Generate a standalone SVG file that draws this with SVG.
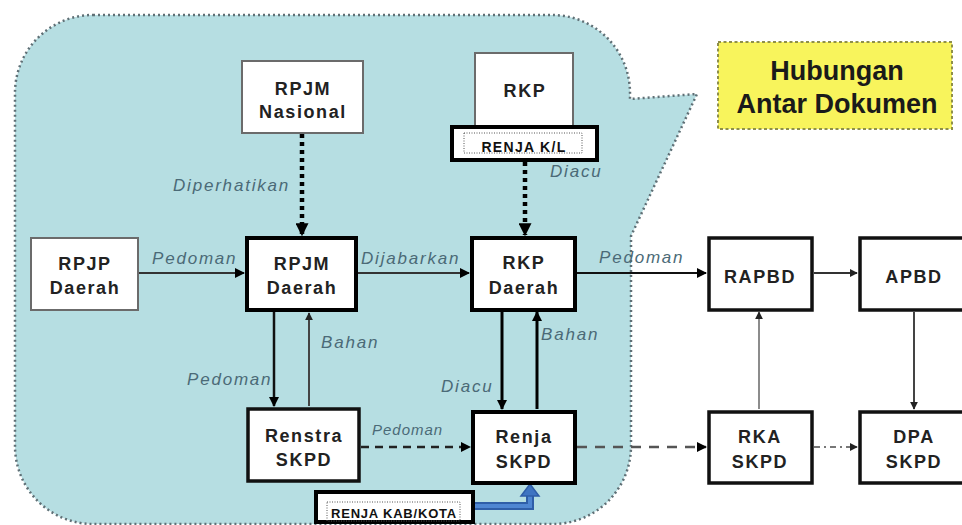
<svg xmlns="http://www.w3.org/2000/svg" width="962" height="525" viewBox="0 0 962 525">
<defs>
<style>
.bg{fill:#ffffff}
.callout{fill:#b6dee2;stroke:#5f6f75;stroke-width:2.5;stroke-dasharray:2 3}
.thin{fill:#ffffff;stroke:#6b6b6b;stroke-width:2}
.thick{fill:#ffffff;stroke:#000000;stroke-width:4}
.med{fill:#ffffff;stroke:#111111;stroke-width:3.5}
.nt{font-family:"Liberation Sans",Arial,sans-serif;font-weight:bold;font-size:18px;letter-spacing:1.6px;fill:#222222;text-anchor:middle}
.lbl{font-family:"Liberation Sans",Arial,sans-serif;font-style:italic;font-size:17px;letter-spacing:1.8px;fill:#4b6a77}
.tag{fill:#ffffff;stroke:#000000;stroke-width:4}
.tagin{fill:none;stroke:#555555;stroke-width:1;stroke-dasharray:1 1.5}
.tagt{font-family:"Liberation Sans",Arial,sans-serif;font-weight:bold;fill:#111111;text-anchor:middle}
.title{font-family:"Liberation Sans",Arial,sans-serif;font-weight:bold;font-size:27px;fill:#1a1a1a;text-anchor:middle}
.c{fill:none}
</style>
<marker id="ah" viewBox="0 0 10 10" refX="9" refY="5" markerWidth="10" markerHeight="10" markerUnits="userSpaceOnUse" orient="auto">
<path d="M0,0 L10,5 L0,10 Z" fill="#000000"/>
</marker>
<marker id="ahs" viewBox="0 0 10 10" refX="9" refY="5" markerWidth="8" markerHeight="8" markerUnits="userSpaceOnUse" orient="auto">
<path d="M0,0 L10,5 L0,10 Z" fill="#222222"/>
</marker>
<marker id="ahb" viewBox="0 0 10 10" refX="9" refY="5" markerWidth="13" markerHeight="13" markerUnits="userSpaceOnUse" orient="auto">
<path d="M0,0 L10,5 L0,10 Z" fill="#000000"/>
</marker>
</defs>
<rect class="bg" x="0" y="0" width="962" height="525"/>
<path id="callout" class="callout" d="M93 15 H552 A78 78 0 0 1 630 93 V99 L697 94 L631 236 V446 A78 78 0 0 1 553 524 H93 A78 78 0 0 1 15 446 V93 A78 78 0 0 1 93 15 Z"/>

<g id="title">
<rect x="718" y="42" width="234" height="87" fill="#f8f45c" stroke="#8f8f4a" stroke-width="2" stroke-dasharray="3 2.5"/>
<text class="title" x="837" y="80">Hubungan</text>
<text class="title" x="837" y="113">Antar Dokumen</text>
</g>

<g id="connectors">
<path class="c" d="M302 134 V235" stroke="#000" stroke-width="4.5" stroke-dasharray="4 4" marker-end="url(#ahb)"/>
<path class="c" d="M525 162 V235" stroke="#000" stroke-width="4.5" stroke-dasharray="4 4" marker-end="url(#ahb)"/>
<path class="c" d="M139 273 H244" stroke="#333" stroke-width="2" marker-end="url(#ah)"/>
<path class="c" d="M358 273 H469" stroke="#333" stroke-width="2" marker-end="url(#ah)"/>
<path class="c" d="M577 273 H706" stroke="#111" stroke-width="2" marker-end="url(#ah)"/>
<path class="c" d="M814 273 H857" stroke="#333" stroke-width="1.8" marker-end="url(#ahs)"/>
<path class="c" d="M274 312 V406" stroke="#111" stroke-width="2.5" marker-end="url(#ah)"/>
<path class="c" d="M309 406 V313" stroke="#444" stroke-width="2" marker-end="url(#ahs)"/>
<path class="c" d="M502 312 V409" stroke="#000" stroke-width="3" marker-end="url(#ah)"/>
<path class="c" d="M537 409 V312" stroke="#000" stroke-width="3" marker-end="url(#ah)"/>
<path class="c" d="M361 447 H470" stroke="#222" stroke-width="2.5" stroke-dasharray="8 6" marker-end="url(#ah)"/>
<path class="c" d="M577 447 H706" stroke="#555" stroke-width="2.5" stroke-dasharray="10 8" marker-end="url(#ah)"/>
<path class="c" d="M814 447 H857" stroke="#777" stroke-width="2" stroke-dasharray="6 4 2 4" marker-end="url(#ahs)"/>
<path class="c" d="M759 409 V312" stroke="#666" stroke-width="1.5" marker-end="url(#ahs)"/>
<path class="c" d="M914 312 V409" stroke="#444" stroke-width="2" marker-end="url(#ahs)"/>
<path class="c" d="M475 506 H530 V496" stroke="#2f5ea8" stroke-width="8"/>
<path class="c" d="M475 506 H530 V496" stroke="#4f86d2" stroke-width="4"/>
<path d="M521 496 L530 484 L539 496 Z" fill="#3f74c2" stroke="#2f5ea8" stroke-width="1.5"/>
<text class="lbl" x="173" y="191">Diperhatikan</text>
<text class="lbl" x="550" y="177">Diacu</text>
<text class="lbl" x="152" y="264">Pedoman</text>
<text class="lbl" x="361" y="264">Dijabarkan</text>
<text class="lbl" x="599" y="263">Pedoman</text>
<text class="lbl" x="321" y="348">Bahan</text>
<text class="lbl" x="541" y="340">Bahan</text>
<text class="lbl" x="187" y="385">Pedoman</text>
<text class="lbl" x="441" y="392">Diacu</text>
<text class="lbl" x="372" y="435" style="font-size:15px;letter-spacing:1px">Pedoman</text>
</g>

<g id="rpjm-nasional">
<rect class="thin" x="242" y="61" width="121" height="72"/>
<text class="nt" x="303" y="95">RPJM</text>
<text class="nt" x="303" y="118">Nasional</text>
</g>
<g id="rkp">
<rect class="thin" x="475" y="53" width="98" height="73"/>
<text class="nt" x="525" y="97">RKP</text>
</g>
<g id="renja-kl">
<rect class="tag" x="452" y="127" width="145" height="33"/>
<rect class="tagin" x="464" y="133" width="118" height="20"/>
<text class="tagt" x="524" y="152" style="font-size:14px;letter-spacing:1.3px">RENJA K/L</text>
</g>
<g id="rpjp-daerah">
<rect class="thin" x="31" y="238" width="107" height="72"/>
<text class="nt" x="85" y="270">RPJP</text>
<text class="nt" x="85" y="294">Daerah</text>
</g>
<g id="rpjm-daerah">
<rect class="thick" x="247" y="238" width="109" height="72"/>
<text class="nt" x="302" y="270">RPJM</text>
<text class="nt" x="302" y="294">Daerah</text>
</g>
<g id="rkp-daerah">
<rect class="thick" x="472" y="238" width="103" height="72"/>
<text class="nt" x="524" y="269">RKP</text>
<text class="nt" x="524" y="294">Daerah</text>
</g>
<g id="rapbd">
<rect class="med" x="709" y="238" width="103" height="72"/>
<text class="nt" x="760" y="283">RAPBD</text>
</g>
<g id="apbd">
<rect class="med" x="860" y="238" width="108" height="72"/>
<text class="nt" x="914" y="283">APBD</text>
</g>
<g id="renstra-skpd">
<rect class="med" x="248" y="409" width="111" height="72"/>
<text class="nt" x="304" y="442">Renstra</text>
<text class="nt" x="304" y="466">SKPD</text>
</g>
<g id="renja-skpd">
<rect class="thick" x="473" y="412" width="102" height="71"/>
<text class="nt" x="524" y="443">Renja</text>
<text class="nt" x="524" y="468">SKPD</text>
</g>
<g id="rka-skpd">
<rect class="med" x="709" y="412" width="103" height="71"/>
<text class="nt" x="760" y="443">RKA</text>
<text class="nt" x="760" y="468">SKPD</text>
</g>
<g id="dpa-skpd">
<rect class="med" x="860" y="412" width="108" height="71"/>
<text class="nt" x="914" y="443">DPA</text>
<text class="nt" x="914" y="468">SKPD</text>
</g>
<g id="renja-kab-kota">
<rect class="tag" x="316" y="492" width="157" height="30"/>
<rect class="tagin" x="327" y="502" width="133" height="19"/>
<text class="tagt" x="394" y="518" style="font-size:13px;letter-spacing:0.8px">RENJA KAB/KOTA</text>
</g>
</svg>
